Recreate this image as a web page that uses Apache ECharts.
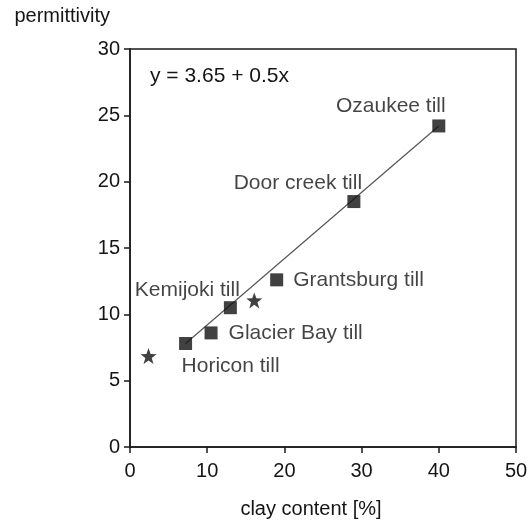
<!DOCTYPE html>
<html>
<head>
<meta charset="utf-8">
<script src="https://cdn.jsdelivr.net/npm/echarts@6/dist/echarts.min.js"></script>
<style>
html,body{margin:0;padding:0;background:#fff;}
#c{width:527px;height:523px;}
</style>
</head>
<body>
<div id="c"></div>
<script>
// ---- data ----
const tillNames = ['Horicon till', 'Glacier Bay till', 'Kemijoki till', 'Grantsburg till', 'Door creek till', 'Ozaukee till'];
const tillClay = [7.2, 10.5, 13.0, 19.0, 29.0, 40.0];
const tillPerm = [7.8, 8.6, 10.5, 12.6, 18.5, 24.2];
const starClay = [2.4, 16.1];
const starPerm = [6.85, 11.05];
const fitClay = [7.2, 40.0];
const fitPerm = [7.8, 24.2];
const xTicks = [0, 10, 20, 30, 40, 50];
const yTicks = [0, 5, 10, 15, 20, 25, 30];
const equationText = 'y = 3.65 + 0.5x';
const xTitle = 'clay content [%]';
const yTitle = 'permittivity';

// ---- label placement (style, not data) ----
const labelPlace = {
  'Horicon till': {position: 'inside', offset: [45, 23]},
  'Glacier Bay till': {position: 'right', distance: 11},
  'Kemijoki till': {position: 'inside', offset: [-43, -17]},
  'Grantsburg till': {position: 'right', distance: 10},
  'Door creek till': {position: 'inside', offset: [-56, -18]},
  'Ozaukee till': {position: 'inside', offset: [-48, -20]}
};

const FONT = '"Liberation Sans", Arial, Helvetica, sans-serif';
const TXT = '#151515';
const AX = '#1a1a1a';

const chart = echarts.init(document.getElementById('c'), null, {renderer: 'canvas'});

const tillData = tillNames.map((n, i) => ({
  name: n,
  value: [tillClay[i], tillPerm[i]],
  label: Object.assign({show: true, formatter: '{b}', color: TXT, fontSize: 21, fontFamily: FONT, textBorderWidth: 0}, labelPlace[n])
}));
const starData = starClay.map((x, i) => [x, starPerm[i]]);
const fitData = fitClay.map((x, i) => [x, fitPerm[i]]);

const starPath = 'path://M50,0 L63,35 L100,36 L70,59 L81,95 L50,74 L19,95 L30,59 L0,36 L37,35 Z';

chart.setOption({
  animation: false,
  backgroundColor: '#fff',
  textStyle: {fontFamily: FONT},
  grid: {left: 130, right: 11, top: 49, bottom: 76, show: true, borderColor: AX, borderWidth: 1.5,
         containLabel: false, outerBoundsMode: 'none'},
  xAxis: {
    type: 'value', min: 0, max: 50, interval: 10,
    name: xTitle, nameLocation: 'middle', nameGap: 52,
    nameTextStyle: {color: TXT, fontSize: 20, fontFamily: FONT, padding: [0, 24, 0, 0]},
    axisLine: {show: true, lineStyle: {color: AX, width: 1.5}},
    axisTick: {show: true, length: 6, lineStyle: {color: AX, width: 1.5}},
    axisLabel: {color: TXT, fontSize: 20, fontFamily: FONT, margin: 14,
      formatter: v => xTicks.includes(v) ? String(v) : ''},
    splitLine: {show: false}
  },
  yAxis: {
    type: 'value', min: 0, max: 30, interval: 5,
    name: yTitle, nameLocation: 'end', nameGap: 23,
    nameTextStyle: {color: TXT, fontSize: 20, fontFamily: FONT, align: 'right', padding: [0, 20, 0, 0]},
    axisLine: {show: true, lineStyle: {color: AX, width: 1.5}},
    axisTick: {show: true, length: 6, lineStyle: {color: AX, width: 1.5}},
    axisLabel: {color: TXT, fontSize: 20, fontFamily: FONT, margin: 10,
      formatter: v => yTicks.includes(v) ? String(v) : ''},
    splitLine: {show: false}
  },
  graphic: [{
    type: 'text', left: 150, top: 66,
    style: {text: equationText, fill: TXT, font: '21px ' + FONT}
  }],
  series: [
    {
      type: 'line', data: fitData, symbol: 'none', silent: true,
      lineStyle: {color: '#555', width: 1.2}, z: 1
    },
    {
      type: 'scatter', data: tillData, symbol: 'rect', symbolSize: 13,
      itemStyle: {color: '#111'}, z: 3
    },
    {
      type: 'scatter', data: starData, symbol: starPath, symbolSize: 16,
      itemStyle: {color: '#111'}, z: 3
    }
  ]
});
</script>
</body>
</html>
